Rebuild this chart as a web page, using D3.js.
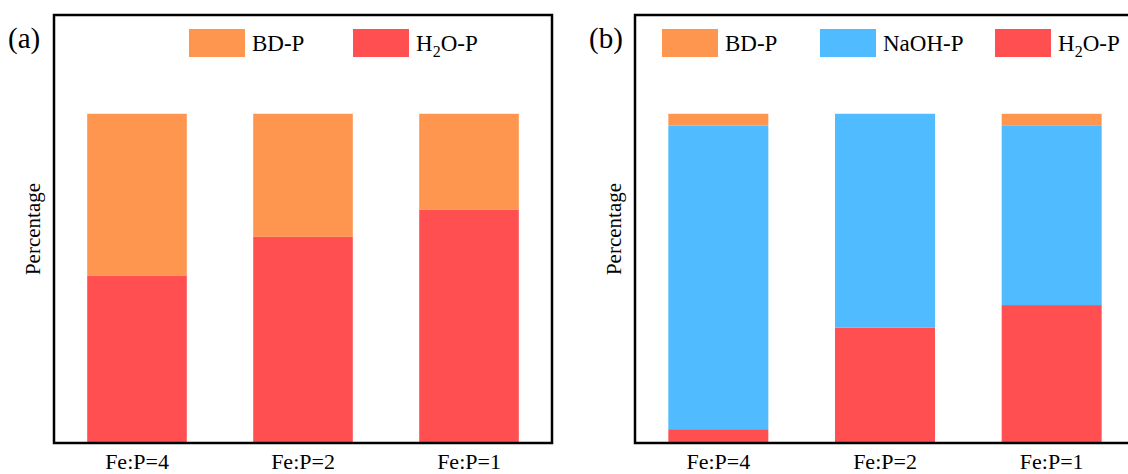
<!DOCTYPE html>
<html>
<head>
<meta charset="utf-8">
<script src="https://cdn.jsdelivr.net/npm/d3@7"></script>
<style>
  body { margin: 0; background: #fff; }
  svg text { font-family: "Liberation Serif", "DejaVu Serif", "Times New Roman", serif; fill: #000; }
</style>
</head>
<body>
<svg id="chart" width="1128" height="474"></svg>
<script>
// categories and values (percent)
const categories = ['Fe:P=4', 'Fe:P=2', 'Fe:P=1'];

const h2oA = [50.9, 62.6, 70.8];
const bdA = [49.1, 37.4, 29.2];

const h2oB = [4.2, 35.0, 41.9];
const naohB = [92.2, 65.0, 54.6];
const bdB = [3.6, 0, 3.5];

const colors = { bd: '#ff9650', naoh: '#50bbff', h2o: '#ff4f50' };
const serif = '"Liberation Serif", "DejaVu Serif", "Times New Roman", serif';

const svg = d3.select('#chart');

let drawPanel = function (opts) {
  const x = d3.scaleBand()
    .domain(categories)
    .range([opts.left, opts.right])
    .paddingInner(0.4)
    .paddingOuter(0.2);

  const y = d3.scaleLinear()
    .domain([0, 130])
    .range([443, 15]);

  const rows = categories.map((c, i) => {
    let r = { cat: c };
    opts.series.forEach(s => { r[s.key] = s.values[i]; });
    return r;
  });

  const stack = d3.stack().keys(opts.series.map(s => s.key));
  const layers = stack(rows);

  const g = svg.append('g').attr('font-family', serif);

  // bars, bottom to top
  g.selectAll('g.layer')
    .data(layers)
    .join('g')
    .attr('class', 'layer')
    .attr('fill', d => colors[d.key])
    .selectAll('rect')
    .data(d => d)
    .join('rect')
    .attr('x', d => x(d.data.cat))
    .attr('width', x.bandwidth())
    .attr('y', d => y(d[1]))
    .attr('height', d => y(d[0]) - y(d[1]));

  // frame
  g.append('rect')
    .attr('x', opts.left)
    .attr('y', y(130))
    .attr('width', opts.right - opts.left)
    .attr('height', y(0) - y(130))
    .attr('fill', 'none')
    .attr('stroke', '#000')
    .attr('stroke-width', 2.5);

  // x labels
  const xAxis = g.append('g')
    .attr('transform', 'translate(0,' + y(0) + ')')
    .call(d3.axisBottom(x).tickSize(0).tickPadding(10));
  xAxis.attr('font-family', serif);
  xAxis.select('.domain').remove();
  xAxis.selectAll('text')
    .style('font-family', serif)
    .style('font-size', '22px')
    .attr('fill', '#000');

  // y label
  g.append('text')
    .attr('transform', 'translate(' + (opts.left - 14) + ',' + ((y(0) + y(130)) / 2) + ') rotate(-90)')
    .attr('text-anchor', 'middle')
    .style('font-size', '21px')
    .text('Percentage');

  // panel tag
  g.append('text')
    .attr('x', opts.left - 46)
    .attr('y', 48)
    .style('font-size', '29px')
    .text(opts.tag);

  // legend
  opts.legend.forEach(item => {
    g.append('rect')
      .attr('x', item.x)
      .attr('y', 29)
      .attr('width', 56)
      .attr('height', 28)
      .attr('fill', colors[item.key]);
    const t = g.append('text')
      .attr('x', item.x + 63)
      .attr('y', 51)
      .style('font-size', '23px');
    if (item.key === 'h2o') {
      t.append('tspan').text('H');
      t.append('tspan').attr('dy', 6).style('font-size', '16px').text('2');
      t.append('tspan').attr('dy', -6).text('O-P');
    } else {
      t.text(item.label);
    }
  });
};

drawPanel({
  left: 54,
  right: 552,
  tag: '(a)',
  series: [
    { key: 'h2o', values: h2oA },
    { key: 'bd', values: bdA }
  ],
  legend: [
    { key: 'bd', label: 'BD-P', x: 189 },
    { key: 'h2o', label: 'H2O-P', x: 353 }
  ]
});

drawPanel({
  left: 635,
  right: 1135,
  tag: '(b)',
  series: [
    { key: 'h2o', values: h2oB },
    { key: 'naoh', values: naohB },
    { key: 'bd', values: bdB }
  ],
  legend: [
    { key: 'bd', label: 'BD-P', x: 662 },
    { key: 'naoh', label: 'NaOH-P', x: 820 },
    { key: 'h2o', label: 'H2O-P', x: 995 }
  ]
});
</script>
</body>
</html>
